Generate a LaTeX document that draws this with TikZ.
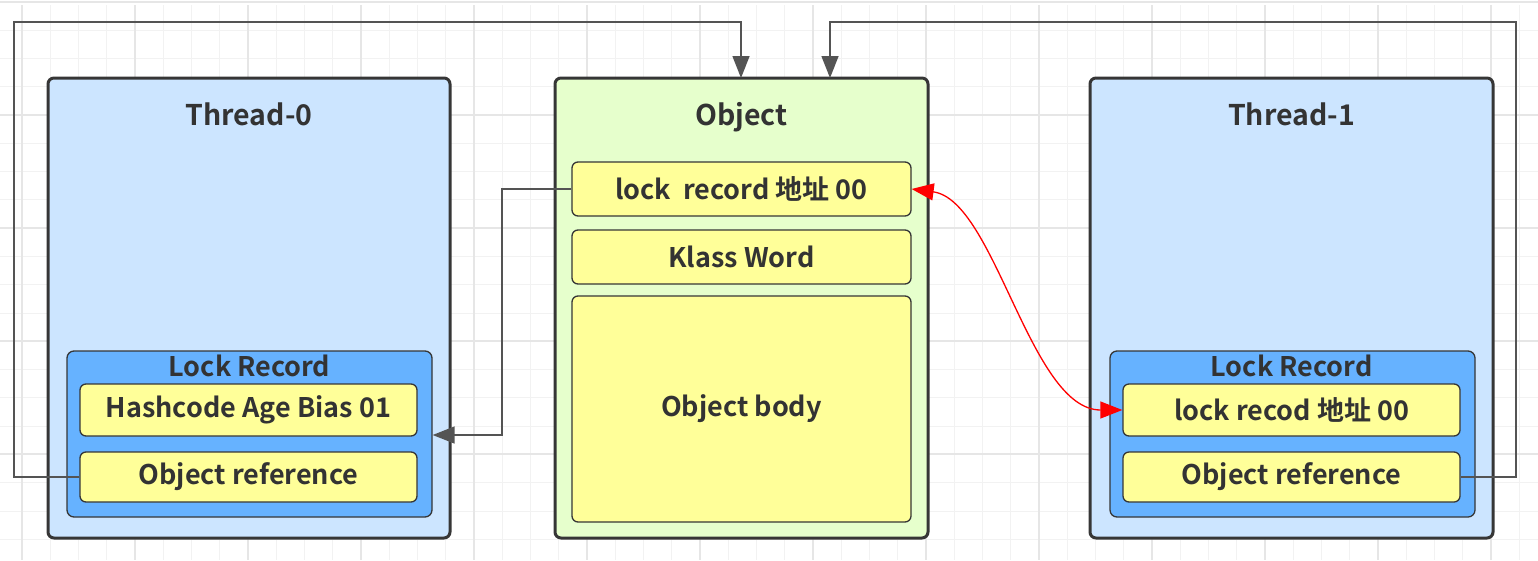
\documentclass[tikz,border=0pt]{standalone}
\usepackage{fontspec}
\setmainfont{Noto Sans CJK SC}[BoldFont={Noto Sans CJK SC Bold}]
\usetikzlibrary{arrows.meta}
\definecolor{bordc}{HTML}{363636}
\definecolor{threadc}{HTML}{CCE5FF}
\definecolor{objc}{HTML}{E6FFCC}
\definecolor{yelc}{HTML}{FFFF99}
\definecolor{lrc}{HTML}{66B2FF}
\definecolor{gridminor}{HTML}{F2F2F2}
\definecolor{gridmajor}{HTML}{E6E6E6}
\definecolor{txtc}{HTML}{333333}
\tikzset{
  bigbox/.style={draw=bordc, line width=3pt, rounded corners=6pt, inner sep=0pt},
  inbox/.style={draw=bordc, line width=1.3pt, fill=yelc, rounded corners=6pt, inner sep=0pt,
     font=\bfseries\fontsize{27}{29}\selectfont, text=txtc},
  lrbox/.style={draw=bordc, line width=1.3pt, fill=lrc, rounded corners=7pt, inner sep=0pt},
  ttl/.style={font=\bfseries\fontsize{28.5}{30}\selectfont, text=txtc, inner sep=0pt, anchor=base},
  lrttl/.style={font=\bfseries\fontsize{27}{29}\selectfont, text=txtc, inner sep=0pt, anchor=base},
  conn/.style={draw=bordc!85, line width=1.5pt},
  arr/.style={-{Triangle[length=22pt,width=17pt]}},
  redarr/.style={draw=red, line width=1.3pt, {Triangle[length=22pt,width=17pt]}-{Triangle[length=22pt,width=17pt]}}
}
\begin{document}
\begin{tikzpicture}[x=1pt,y=-1pt]
\useasboundingbox (0,0) rectangle (1538,560);
\fill[white] (0,0) rectangle (1538,560);
% grid
\foreach \i in {0,...,54} {
  \pgfmathsetmacro{\xx}{22+28.25*(\i-0)}
  \draw[gridminor, line width=1pt] (\xx,5) -- (\xx,560);
}
\foreach \i in {0,...,20} {
  \pgfmathsetmacro{\yy}{1.75+28.3*\i}
  \draw[gridminor, line width=1pt] (0,\yy) -- (1538,\yy);
}
\foreach \i in {0,...,13} {
  \pgfmathsetmacro{\xx}{22+113*\i}
  \draw[gridmajor, line width=1.3pt] (\xx,5) -- (\xx,560);
}
\foreach \i in {0,...,5} {
  \pgfmathsetmacro{\yy}{115+113*(\i-1)}
  \draw[gridmajor, line width=1.3pt] (0,\yy) -- (1538,\yy);
}

% big boxes
\node[bigbox, fill=threadc, minimum width=402, minimum height=460] (t0) at (249,308) {};
\node[bigbox, fill=objc, minimum width=373, minimum height=460] (obj) at (741.5,308) {};
\node[bigbox, fill=threadc, minimum width=403, minimum height=460] (t1) at (1291.5,308) {};
\node[ttl] (t0t) at (249,125) {Thread-0};
\node[ttl] (objt) at (741.5,125) {Object};
\node[ttl] (t1t) at (1291.5,125) {Thread-1};

% object fields
\node[inbox, minimum width=339, minimum height=54] (lrec) at (741.5,189) {lock\ \ record 地址 00};
\node[inbox, minimum width=339, minimum height=54] (klass) at (741.5,257) {Klass Word};
\node[inbox, minimum width=339, minimum height=226] (body) at (741.5,409) {Object body};

% left lock record
\node[lrbox, minimum width=365, minimum height=166] (lr0) at (249.5,434) {};
\node[lrttl] (lr0t) at (249.5,376) {Lock Record};
\node[inbox, minimum width=337, minimum height=52] (hash) at (248.5,410) {Hashcode Age Bias 01};
\node[inbox, minimum width=337, minimum height=50] (oref0) at (248.5,477) {Object reference};

% right lock record
\node[lrbox, minimum width=365, minimum height=166] (lr1) at (1292.5,434) {};
\node[lrttl] (lr1t) at (1291.5,376) {Lock Record};
\node[inbox, minimum width=337, minimum height=52] (lrec1) at (1291.5,410) {lock recod 地址 00};
\node[inbox, minimum width=337, minimum height=50] (oref1) at (1291.5,477) {Object reference};

% connectors
\coordinate (c1) at (14,22);
\coordinate (c2) at (1516,22);
\draw[conn, arr] (oref0.west) -| (c1) -| (741,78);
\draw[conn, arr] (oref1.east) -| (c2) -| (830,78);
\coordinate (c3) at (502,189);
\draw[conn, arr] (lrec.west) -- (c3) |- (lr0.east |- 0,435);
\draw[redarr] (lrec.east) .. controls (995,200) and (1030,410) .. (lrec1.west);
\end{tikzpicture}
\end{document}
